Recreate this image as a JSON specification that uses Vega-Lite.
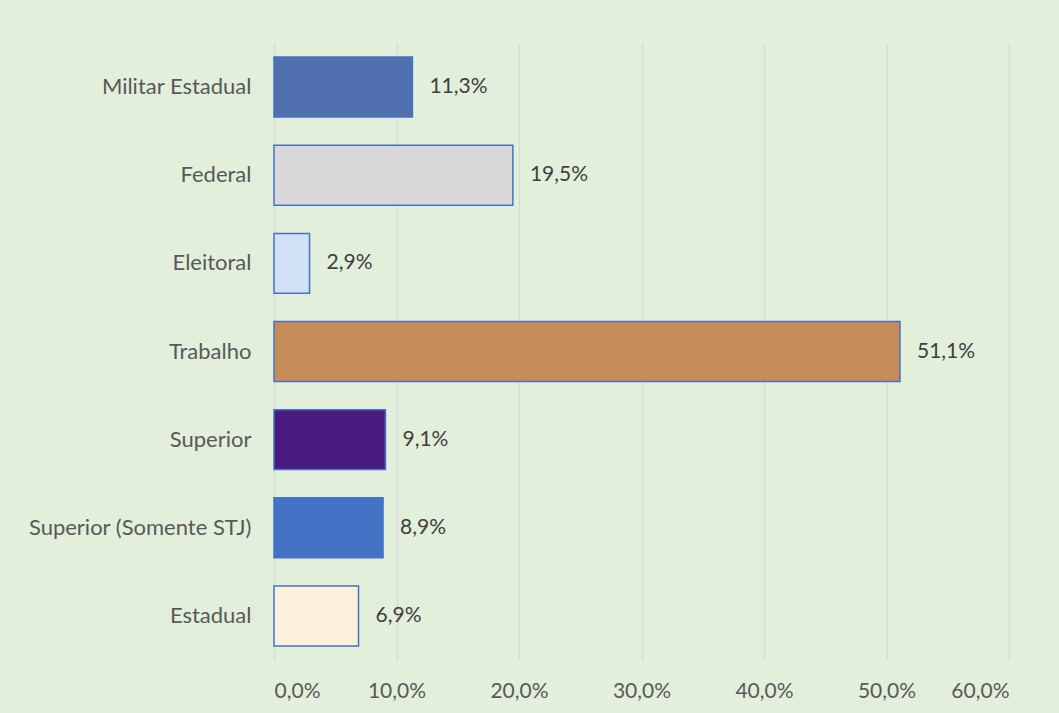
{
  "$schema": "https://vega.github.io/schema/vega-lite/v6.json",
  "width": 735,
  "height": 617,
  "autosize": {"type": "none"},
  "padding": {"left": 274, "top": 43, "right": 50, "bottom": 53},
  "background": "#E2EFDA",
  "config": {
    "locale": {"number": {"decimal": ",", "thousands": ".", "grouping": [3], "currency": ["R$", ""]}},
    "view": {"stroke": null},
    "font": "Lato"
  },
  "data": {
    "values": [
      {"cat": "Militar Estadual", "v": 0.113},
      {"cat": "Federal", "v": 0.195},
      {"cat": "Eleitoral", "v": 0.029},
      {"cat": "Trabalho", "v": 0.511},
      {"cat": "Superior", "v": 0.091},
      {"cat": "Superior (Somente STJ)", "v": 0.089},
      {"cat": "Estadual", "v": 0.069}
    ]
  },
  "encoding": {
    "y": {
      "field": "cat", "type": "nominal", "sort": null,
      "scale": {"paddingInner": 0.32, "paddingOuter": 0.16},
      "axis": {"title": null, "ticks": false, "domain": false, "labelFontSize": 22, "labelColor": "#595959", "labelPadding": 23, "labelLimit": 400, "labelFont": "Lato"}
    },
    "x": {
      "field": "v", "type": "quantitative",
      "scale": {"domain": [0, 0.6], "nice": false},
      "axis": {"title": null, "format": ".1%", "values": [0, 0.1, 0.2, 0.3, 0.4, 0.5, 0.6], "ticks": false, "domain": false, "grid": true, "gridColor": "#D9D9D9", "gridWidth": 1.5, "labelFontSize": 21, "labelFont": "Lato", "labelColor": "#595959", "labelPadding": 20}
    }
  },
  "layer": [
    {
      "mark": {"type": "bar", "stroke": "#4472C4", "strokeWidth": 1.5},
      "encoding": {
        "color": {
          "field": "cat", "type": "nominal", "legend": null,
          "scale": {
            "domain": ["Militar Estadual", "Federal", "Eleitoral", "Trabalho", "Superior", "Superior (Somente STJ)", "Estadual"],
            "range": ["#5070B0", "#D8D8DA", "#D2E0F6", "#C68C58", "#4A1A80", "#4472C4", "#FDF0DC"]
          }
        }
      }
    },
    {
      "mark": {"type": "text", "align": "left", "dx": 17, "fontSize": 21, "font": "Lato", "color": "#404040"},
      "encoding": {"text": {"field": "v", "type": "quantitative", "format": ".1%"}}
    }
  ]
}
